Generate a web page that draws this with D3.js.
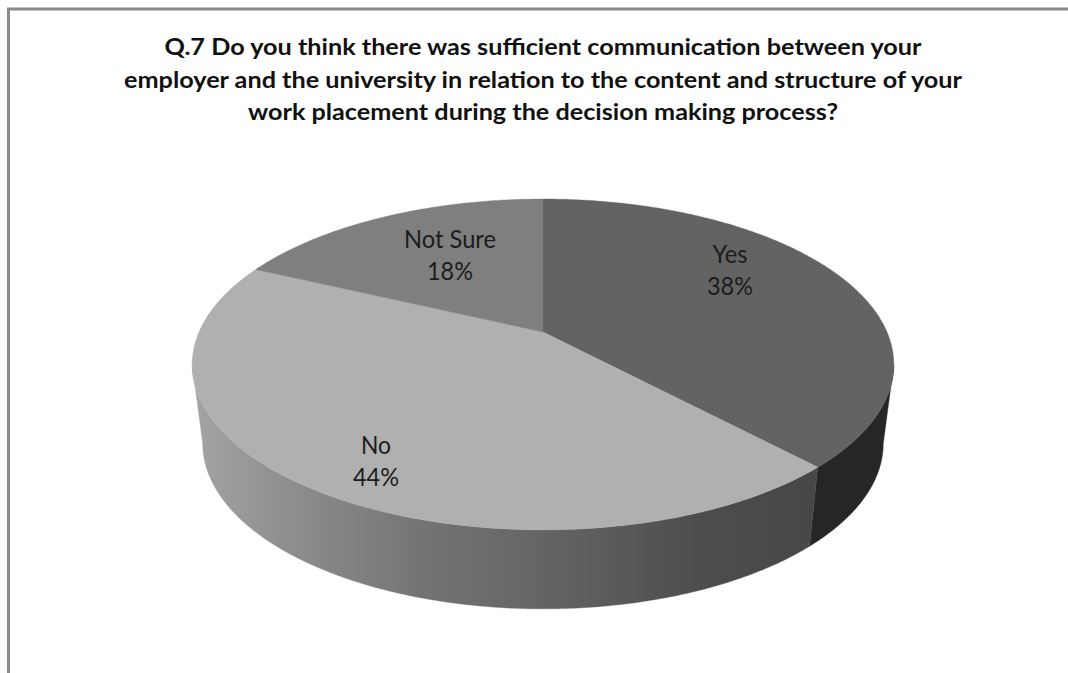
<!DOCTYPE html>
<html>
<head>
<meta charset="utf-8">
<script src="https://cdnjs.cloudflare.com/ajax/libs/d3/7.8.5/d3.min.js"></script>
<style>
  html, body { margin: 0; padding: 0; background: #fff; }
  svg { display: block; }
  text { font-family: Lato, "Open Sans", sans-serif; }
</style>
</head>
<body>
<svg id="chart" width="1068" height="673"></svg>
<script>
// Survey answers
const categories = ["Yes", "No", "Not Sure"];
const shares = [38, 44, 18];
const titleLines = [
  "Q.7 Do you think there was sufficient communication between your",
  "employer and the university in relation to the content and structure of your",
  "work placement during the decision making process?"
];

// Slice colours: top face and outer wall
const topColours = ["#636363", "#b0b0b0", "#7f7f7f"];
const wallColours = ["#262626", "url(#wallShade)", "#4a4a4a"];

// Horizontal shading across the large wall section
const wallShadeStops = [
  [200, "#a2a2a2"], [300, "#8c8c8c"], [420, "#747474"],
  [560, "#626262"], [700, "#4d4d4d"], [815, "#474747"]
];

// Label layout, with text widths for the condensed face
const labelCentres = { "Yes": [730, 273], "No": [376, 464], "Not Sure": [450, 258] };
const nameWidths = { "Yes": 35, "No": 30, "Not Sure": 92 };
const titleWidths = [757, 838, 590];

const svg = d3.select("#chart");

// Perspective projection of a tilted unit disc
const cx = 543, apexY = 332, tilt = -0.196, spreadX = 344, spreadY = 94;
const wallDrop = 79, lowerScale = 0.97;

function project(angle, r = 1) {
  const x = r * Math.sin(angle), y = -r * Math.cos(angle);
  const w = 1 + tilt * y;
  return [cx + spreadX * x / w, (apexY + spreadY * y) / w];
}
function projectLower(angle) {
  const [x, y] = project(angle);
  return [cx + (x - cx) * lowerScale, y + wallDrop];
}
function arcAngles(a0, a1) {
  const steps = Math.max(2, Math.ceil(Math.abs(a1 - a0) / 0.01));
  return d3.range(steps + 1).map(i => a0 + (a1 - a0) * i / steps);
}

const pie = d3.pie().sort(null).value(d => d.share).startAngle(0).endAngle(2 * Math.PI);
const slices = pie(categories.map((name, i) => ({ name, share: shares[i], i })));
const line = d3.line();

// Frame along the top and left edges
svg.append("path")
  .attr("d", line([[8.5, 673], [8.5, 9], [1068, 9]]))
  .attr("fill", "none").attr("stroke", "#8a8a8a").attr("stroke-width", 3);

// Title, tall and condensed
svg.append("g").selectAll("text").data(titleLines).join("text")
  .attr("x", 543)
  .attr("y", (d, i) => [55, 87.5, 120][i])
  .attr("text-anchor", "middle")
  .attr("font-size", 23.5)
  .attr("font-weight", 700)
  .attr("fill", "#111")
  .attr("textLength", (d, i) => titleWidths[i])
  .attr("lengthAdjust", "spacingAndGlyphs")
  .text(d => d);

const defs = svg.append("defs");
defs.append("linearGradient")
  .attr("id", "wallShade")
  .attr("gradientUnits", "userSpaceOnUse")
  .attr("x1", wallShadeStops[0][0]).attr("x2", wallShadeStops[wallShadeStops.length - 1][0])
  .attr("y1", 0).attr("y2", 0)
  .selectAll("stop").data(wallShadeStops).join("stop")
  .attr("offset", d => (d[0] - wallShadeStops[0][0]) / (wallShadeStops[wallShadeStops.length - 1][0] - wallShadeStops[0][0]))
  .attr("stop-color", d => d[1]);

// The wall shows only between the disc's two widest points
const widest = Math.acos(tilt);
const visibleFrom = widest, visibleTo = 2 * Math.PI - widest;

const walls = slices
  .map(s => ({ s, a0: Math.max(s.startAngle, visibleFrom), a1: Math.min(s.endAngle, visibleTo) }))
  .filter(d => d.a1 > d.a0);

svg.append("g").selectAll("path").data(walls).join("path")
  .attr("d", d => {
    const angles = arcAngles(d.a0, d.a1);
    return line(angles.map(a => project(a)).concat(angles.slice().reverse().map(projectLower))) + "Z";
  })
  .attr("fill", d => wallColours[d.s.data.i])
  .attr("stroke", d => wallColours[d.s.data.i])
  .attr("stroke-width", 0.4);

// Top face
svg.append("g").selectAll("path").data(slices).join("path")
  .attr("d", s => line([[cx, apexY]].concat(arcAngles(s.startAngle, s.endAngle).map(a => project(a)))) + "Z")
  .attr("fill", s => topColours[s.data.i])
  .attr("stroke", s => topColours[s.data.i])
  .attr("stroke-width", 0.4);

// Slice labels, name above share
const labels = svg.append("g").selectAll("g").data(slices).join("g")
  .attr("transform", s => `translate(${labelCentres[s.data.name]})`);
labels.append("text")
  .attr("y", -10)
  .attr("text-anchor", "middle").attr("font-size", 24.5).attr("fill", "#1c1c1c")
  .attr("textLength", s => nameWidths[s.data.name]).attr("lengthAdjust", "spacingAndGlyphs")
  .text(s => s.data.name);
labels.append("text")
  .attr("y", 22)
  .attr("text-anchor", "middle").attr("font-size", 24.5).attr("fill", "#1c1c1c")
  .attr("textLength", 46).attr("lengthAdjust", "spacingAndGlyphs")
  .text(s => `${s.data.share}%`);
</script>
</body>
</html>
